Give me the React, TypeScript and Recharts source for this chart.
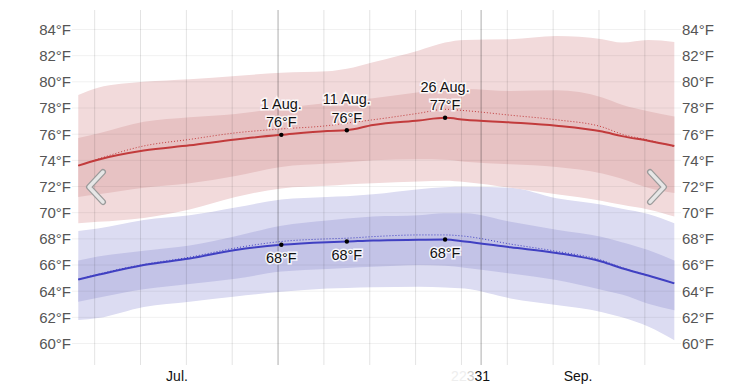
import React from 'react';
import { ComposedChart, Area, Line, XAxis, YAxis, ReferenceLine, ReferenceDot } from 'recharts';

// day 0 = 1 Jul., day 91 = 30 Sep.
const days = [0, 3, 10, 17, 24, 31, 38, 41, 45, 52, 56, 59, 66, 73, 80, 83, 87, 91];

const highAvg = [73.6, 74.05, 74.75, 75.15, 75.6, 75.95, 76.25, 76.3, 76.7, 77.05, 77.25, 77.1, 76.9, 76.65, 76.2, 75.85, 75.5, 75.1];
const highDotted = [73.6, 74.1, 75.1, 75.6, 76.1, 76.4, 76.65, 76.85, 77.1, 77.6, 77.9, 77.8, 77.45, 77.1, 76.55, 76.0, 75.55, 75.05];
const high75 = [75.7, 76.05, 76.95, 77.3, 77.55, 78.0, 78.38, 78.55, 78.75, 79.2, 79.4, 79.45, 79.3, 79.35, 78.8, 78.25, 77.75, 77.35];
const high25 = [71.2, 71.4, 71.9, 72.25, 72.8, 73.5, 73.75, 73.85, 74.0, 74.08, 74.05, 73.9, 73.7, 73.5, 73.0, 72.6, 71.9, 71.5];
const high90 = [79.0, 79.55, 80.0, 80.2, 80.45, 80.7, 80.8, 81.0, 81.5, 82.4, 83.0, 83.2, 83.25, 83.5, 83.25, 83.0, 83.2, 83.05];
const high10 = [69.2, 69.3, 69.6, 70.25, 71.2, 71.85, 72.05, 72.15, 72.25, 72.38, 72.44, 72.35, 71.9, 71.4, 70.9, 70.6, 70.25, 69.7];

const lowAvg = [64.9, 65.25, 66.0, 66.5, 67.15, 67.55, 67.75, 67.8, 67.88, 67.93, 67.95, 67.8, 67.35, 66.92, 66.25, 65.75, 65.2, 64.6];
const lowDotted = [64.9, 65.3, 66.05, 66.6, 67.3, 67.8, 68.0, 68.05, 68.17, 68.3, 68.3, 68.2, 67.6, 67.05, 66.35, 65.8, 65.2, 64.6];
const low75 = [66.35, 66.65, 67.1, 67.5, 68.2, 69.0, 69.4, 69.55, 69.7, 69.8, 69.95, 69.95, 69.3, 68.7, 68.15, 67.75, 67.15, 66.35];
const low25 = [63.2, 63.5, 64.15, 64.55, 64.95, 65.5, 65.7, 65.78, 65.86, 66.0, 65.95, 65.8, 65.35, 64.85, 64.1, 63.75, 63.05, 62.55];
const low90 = [68.6, 68.8, 69.45, 69.8, 70.4, 71.0, 71.2, 71.25, 71.4, 71.8, 71.95, 71.98, 71.9, 71.1, 70.6, 70.3, 69.9, 69.2];
const low10 = [61.8, 61.95, 62.8, 63.2, 63.6, 63.95, 64.2, 64.25, 64.3, 64.34, 64.28, 64.2, 63.45, 62.94, 62.4, 62.0, 61.3, 60.26];

const markerDays = [31, 41, 56];
const markerLabels = ['1 Aug.', '11 Aug.', '26 Aug.'];

const monthTicks = [15.07, 61.8, 76.3];
const monthLabels = ['Jul.', '31', 'Sep.'];
const weekLines = [2.5, 9.5, 16.5, 23.5, 37.5, 44.5, 51.5, 58.5, 65.5, 72.5, 79.5, 86.5];
const monthLines = [30.5, 61.5];
const tempTicks = [60, 62, 64, 66, 68, 70, 72, 74, 76, 78, 80, 82, 84];

const data = days.map((day, i) => ({
  day,
  highAvg: highAvg[i],
  highDotted: highDotted[i],
  highInner: [high25[i], high75[i]],
  highOuter: [high10[i], high90[i]],
  lowAvg: lowAvg[i],
  lowDotted: lowDotted[i],
  lowInner: [low25[i], low75[i]],
  lowOuter: [low10[i], low90[i]],
}));

const FONT = '"Liberation Sans", Arial, Helvetica, sans-serif';

const haloText = {
  fontFamily: FONT,
  fontSize: 14.5,
  fill: '#111',
  stroke: '#fff',
  strokeWidth: 3,
  strokeOpacity: 0.85,
  paintOrder: 'stroke',
  textAnchor: 'middle',
} as const;

const MonthTick = (props: any) => {
  const { x, y, payload } = props;
  const label = monthLabels[monthTicks.indexOf(payload.value)];
  if (label === '31') {
    return (
      <text x={x + 7} y={y} dy="0.71em" textAnchor="end" fontFamily={FONT} fontSize={14}>
        <tspan fill="#eeeeee">22</tspan>
        <tspan fill="#cfcfcf">3</tspan>
        <tspan fill="#111">31</tspan>
      </text>
    );
  }
  return (
    <text x={x} y={y} dy="0.71em" textAnchor="middle" fontFamily={FONT} fontSize={14} fill="#111">
      {label}
    </text>
  );
};

const HighMarker = (label: string, value: number) => (p: any) => (
  <g>
    <circle cx={p.cx} cy={p.cy} r={2.2} fill="#000" />
    <text x={p.cx} y={p.cy - 26} {...haloText}>{label}</text>
    <text x={p.cx} y={p.cy - 7.5} {...haloText}>{`${Math.round(value)}°F`}</text>
  </g>
);

const LowMarker = (value: number) => (p: any) => (
  <g>
    <circle cx={p.cx} cy={p.cy} r={2.2} fill="#000" />
    <text x={p.cx} y={p.cy + 18.5} {...haloText}>{`${Math.round(value)}°F`}</text>
  </g>
);

const Chevron = ({ points }: { points: string }) => (
  <g>
    <polyline points={points} fill="none" stroke="#9a9a9a" strokeWidth={6} strokeLinecap="round" strokeLinejoin="round" />
    <polyline points={points} fill="none" stroke="#e6e6e6" strokeWidth={3.5} strokeLinecap="round" strokeLinejoin="round" />
  </g>
);

export default function App() {
  const tickStyle = { fontFamily: FONT, fontSize: 15, fill: '#555' };
  return (
    <div style={{ position: 'absolute', left: 0, top: 0, width: 753, height: 387, background: '#fff' }}>
      <ComposedChart width={753} height={387} data={data} margin={{ top: 10, right: 0, bottom: 0, left: 0 }}>
        <XAxis
          type="number"
          dataKey="day"
          domain={[-0.96, 92.02]}
          allowDataOverflow
          ticks={monthTicks}
          tick={<MonthTick />}
          axisLine={false}
          tickLine={false}
          tickSize={0}
          tickMargin={6}
          height={22}
          interval={0}
        />
        <YAxis
          yAxisId="left"
          orientation="left"
          type="number"
          domain={[58.36, 85.49]}
          allowDataOverflow
          ticks={tempTicks}
          tickFormatter={(v: number) => `${v}°F`}
          tick={tickStyle}
          axisLine={false}
          tickLine={false}
          tickSize={0}
          tickMargin={1}
          width={72}
          interval={0}
        />
        <YAxis
          yAxisId="right"
          orientation="right"
          type="number"
          domain={[58.36, 85.49]}
          allowDataOverflow
          ticks={tempTicks}
          tickFormatter={(v: number) => `${v}°F`}
          tick={tickStyle}
          axisLine={false}
          tickLine={false}
          tickSize={0}
          tickMargin={1}
          width={72}
          interval={0}
        />

        <Area yAxisId="left" type="monotone" dataKey="lowOuter" stroke="none" fill="#dcdcf2" fillOpacity={1} isAnimationActive={false} activeDot={false} />
        <Area yAxisId="left" type="monotone" dataKey="lowInner" stroke="none" fill="#c3c3e7" fillOpacity={1} isAnimationActive={false} activeDot={false} />
        <Area yAxisId="left" type="monotone" dataKey="highOuter" stroke="none" fill="#f2dadb" fillOpacity={1} isAnimationActive={false} activeDot={false} />
        <Area yAxisId="left" type="monotone" dataKey="highInner" stroke="none" fill="#e7c2c3" fillOpacity={1} isAnimationActive={false} activeDot={false} />

        {tempTicks.map((t) => (
          <ReferenceLine key={`h${t}`} yAxisId="left" y={t} stroke="#000" strokeOpacity={0.06} strokeWidth={1} />
        ))}
        {weekLines.map((d) => (
          <ReferenceLine key={`w${d}`} yAxisId="left" x={d} stroke="#000" strokeOpacity={0.11} strokeWidth={1} />
        ))}
        {monthLines.map((d) => (
          <ReferenceLine key={`m${d}`} yAxisId="left" x={d} stroke="#000" strokeOpacity={0.32} strokeWidth={1} />
        ))}

        <Line yAxisId="left" type="monotone" dataKey="highDotted" stroke="#c23b3c" strokeWidth={1} strokeDasharray="1 2" dot={false} activeDot={false} isAnimationActive={false} />
        <Line yAxisId="left" type="monotone" dataKey="highAvg" stroke="#c23b3c" strokeWidth={2} dot={false} activeDot={false} isAnimationActive={false} />
        <Line yAxisId="left" type="monotone" dataKey="lowDotted" stroke="#4040c2" strokeWidth={1} strokeDasharray="1 2" dot={false} activeDot={false} isAnimationActive={false} />
        <Line yAxisId="left" type="monotone" dataKey="lowAvg" stroke="#4040c2" strokeWidth={2} dot={false} activeDot={false} isAnimationActive={false} />

        {markerDays.map((d, i) => {
          const v = highAvg[days.indexOf(d)];
          return <ReferenceDot key={`hd${d}`} yAxisId="left" x={d} y={v} shape={HighMarker(markerLabels[i], v)} />;
        })}
        {markerDays.map((d) => {
          const v = lowAvg[days.indexOf(d)];
          return <ReferenceDot key={`ld${d}`} yAxisId="left" x={d} y={v} shape={LowMarker(v)} />;
        })}
      </ComposedChart>
      <svg width={753} height={387} style={{ position: 'absolute', left: 0, top: 0, pointerEvents: 'none' }}>
        <Chevron points="103,172 89,187 103,202" />
        <Chevron points="650,172 664,187 650,202" />
      </svg>
    </div>
  );
}
